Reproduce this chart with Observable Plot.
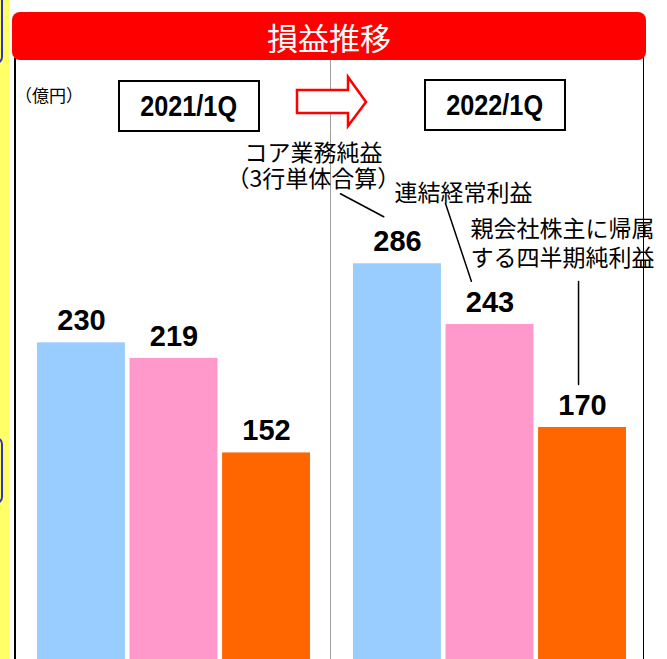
<!DOCTYPE html>
<html><head><meta charset="utf-8">
<script src="https://cdn.jsdelivr.net/npm/d3@7"></script>
<script src="https://cdn.jsdelivr.net/npm/@observablehq/plot@0.6"></script>
<style>
html,body{margin:0;padding:0;background:#fff;overflow:hidden;}
#wrap{position:relative;width:667px;height:659px;overflow:hidden;font-family:"Noto Sans CJK JP",sans-serif;background:#fff;}
.abs{position:absolute;box-sizing:border-box;}
#chart{position:absolute;left:0;top:0;z-index:2;}
.yearbox{position:absolute;box-sizing:border-box;border:2px solid #000;background:#fff;display:flex;align-items:center;justify-content:center;z-index:3;}
.yearbox span{font-family:"Liberation Sans",Arial,sans-serif;font-weight:bold;font-size:29px;color:#000;display:inline-block;transform:scaleX(0.87);}
#unit{font-size:17px;}
</style></head><body><div id="wrap">
  <div class="abs" style="left:0;top:0;width:9px;height:659px;background:#FFFF66;z-index:1"></div>
  <div class="abs" style="left:-50px;top:-20px;width:53px;height:84px;border:2px solid #3333CC;border-radius:7px;z-index:1"></div>
  <div class="abs" style="left:-50px;top:437px;width:53px;height:67px;border:2px solid #3333CC;border-radius:7px;z-index:1"></div>
  <div class="abs" style="left:14px;top:58px;width:2px;height:610px;background:#000;z-index:1"></div>
  <div class="abs" style="left:643px;top:50px;width:1px;height:620px;background:#000;z-index:1"></div>
  <div class="abs" style="left:330px;top:60px;width:1px;height:610px;background:#A0A0A0;z-index:1"></div>
  <div class="abs" id="titlebar" style="left:12px;top:12px;width:634px;height:48px;background:#FF0000;border-radius:8px;z-index:3;color:#fff;font-size:31px;display:flex;align-items:center;justify-content:center;line-height:1"></div>
  <div class="abs" id="unit" style="left:15px;top:85px;line-height:1.2;color:#000;z-index:3;white-space:nowrap"></div>
  <div class="yearbox" id="yb0" style="left:118px;top:80px;width:142px;height:52px"><span></span></div>
  <div class="yearbox" id="yb1" style="left:424px;top:79px;width:142px;height:52px"><span></span></div>
  <svg class="abs" style="left:0;top:0;z-index:3" width="667" height="140"><polygon points="297,90 348,90 348,77 366,102 348,126 348,113 297,113" fill="#fff" stroke="#FF0000" stroke-width="2.5" stroke-linejoin="miter"/></svg>
</div>
<script>
const periods = ["2021/1Q", "2022/1Q"];
const series = ["コア業務純益（3行単体合算）", "連結経常利益", "親会社株主に帰属する四半期純利益"];
const values2021 = [230, 219, 152];
const values2022 = [286, 243, 170];
const colors = ["#99CCFF", "#FF99CC", "#FF6600"];
const title = "損益推移";
const unitLabel = "（億円）";
const annotationLabels = ["コア業務純益\n（3行単体合算）", "連結経常利益", "親会社株主に帰属\nする四半期純利益"];

document.getElementById("titlebar").textContent = title;
document.getElementById("unit").textContent = unitLabel;
document.querySelector("#yb0 span").textContent = periods[0];
document.querySelector("#yb1 span").textContent = periods[1];

const valuesByPeriod = [values2021, values2022];
const rows = periods.flatMap((p, i) => series.map((s, j) => ({period: p, series: s, value: valuesByPeriod[i][j]})));
const pick = (k) => rows.filter(d => d.period === periods[1] && d.series === series[k]);
const line = {draw(context, l) { context.moveTo(0, 0); context.lineTo(0, -l); }};
const jp = "Noto Sans CJK JP, sans-serif";

const chart = Plot.plot({
  width: 667, height: 680,
  marginTop: 60, marginBottom: 13, marginLeft: 37, marginRight: 41,
  style: {background: "transparent", overflow: "visible"},
  fx: {domain: periods, paddingInner: 0.136, paddingOuter: 0, round: false, axis: null, label: null},
  x: {domain: series, paddingInner: 0.05, paddingOuter: 0, round: false, axis: null, label: null},
  y: {domain: [0, 430], axis: null},
  color: {domain: series, range: colors},
  marks: [
    Plot.barY(rows, {fx: "period", x: "series", y: "value", fill: "series"}),
    Plot.text(rows, {fx: "period", x: "series", y: "value", text: d => String(d.value), dy: -22,
      fontSize: 29, fontWeight: "bold", fontFamily: "Liberation Sans, Arial, sans-serif", fill: "#000"}),
    Plot.text(pick(0), {fx: "period", x: "series", y: "value", text: () => annotationLabels[0],
      dx: -84, dy: -98, textAnchor: "middle", lineHeight: 1.15, fontSize: 23, fontFamily: jp, fill: "#000"}),
    Plot.text(pick(1), {fx: "period", x: "series", y: "value", text: () => annotationLabels[1],
      dx: -95.5, dy: -131, textAnchor: "start", fontSize: 23, fontFamily: jp, fill: "#000"}),
    Plot.text(pick(2), {fx: "period", x: "series", y: "value", text: () => annotationLabels[2],
      dx: -112, dy: -185, textAnchor: "start", lineHeight: 1.22, fontSize: 23, fontFamily: jp, fill: "#000"}),
    Plot.vector(pick(0), {fx: "period", x: "series", y: "value", anchor: "start", length: 49, rotate: 118,
      shape: line, dx: -57, dy: -70, stroke: "#000", strokeWidth: 1.5}),
    Plot.vector(pick(1), {fx: "period", x: "series", y: "value", anchor: "start", length: 82, rotate: 161.6,
      shape: line, dx: -44.5, dy: -121, stroke: "#000", strokeWidth: 1.5}),
    Plot.vector(pick(2), {fx: "period", x: "series", y: "value", anchor: "start", length: 103, rotate: 180,
      shape: line, dx: -4, dy: -146, stroke: "#000", strokeWidth: 1.5})
  ]
});
chart.id = "chart";
document.getElementById("wrap").appendChild(chart);
</script>
</body></html>
